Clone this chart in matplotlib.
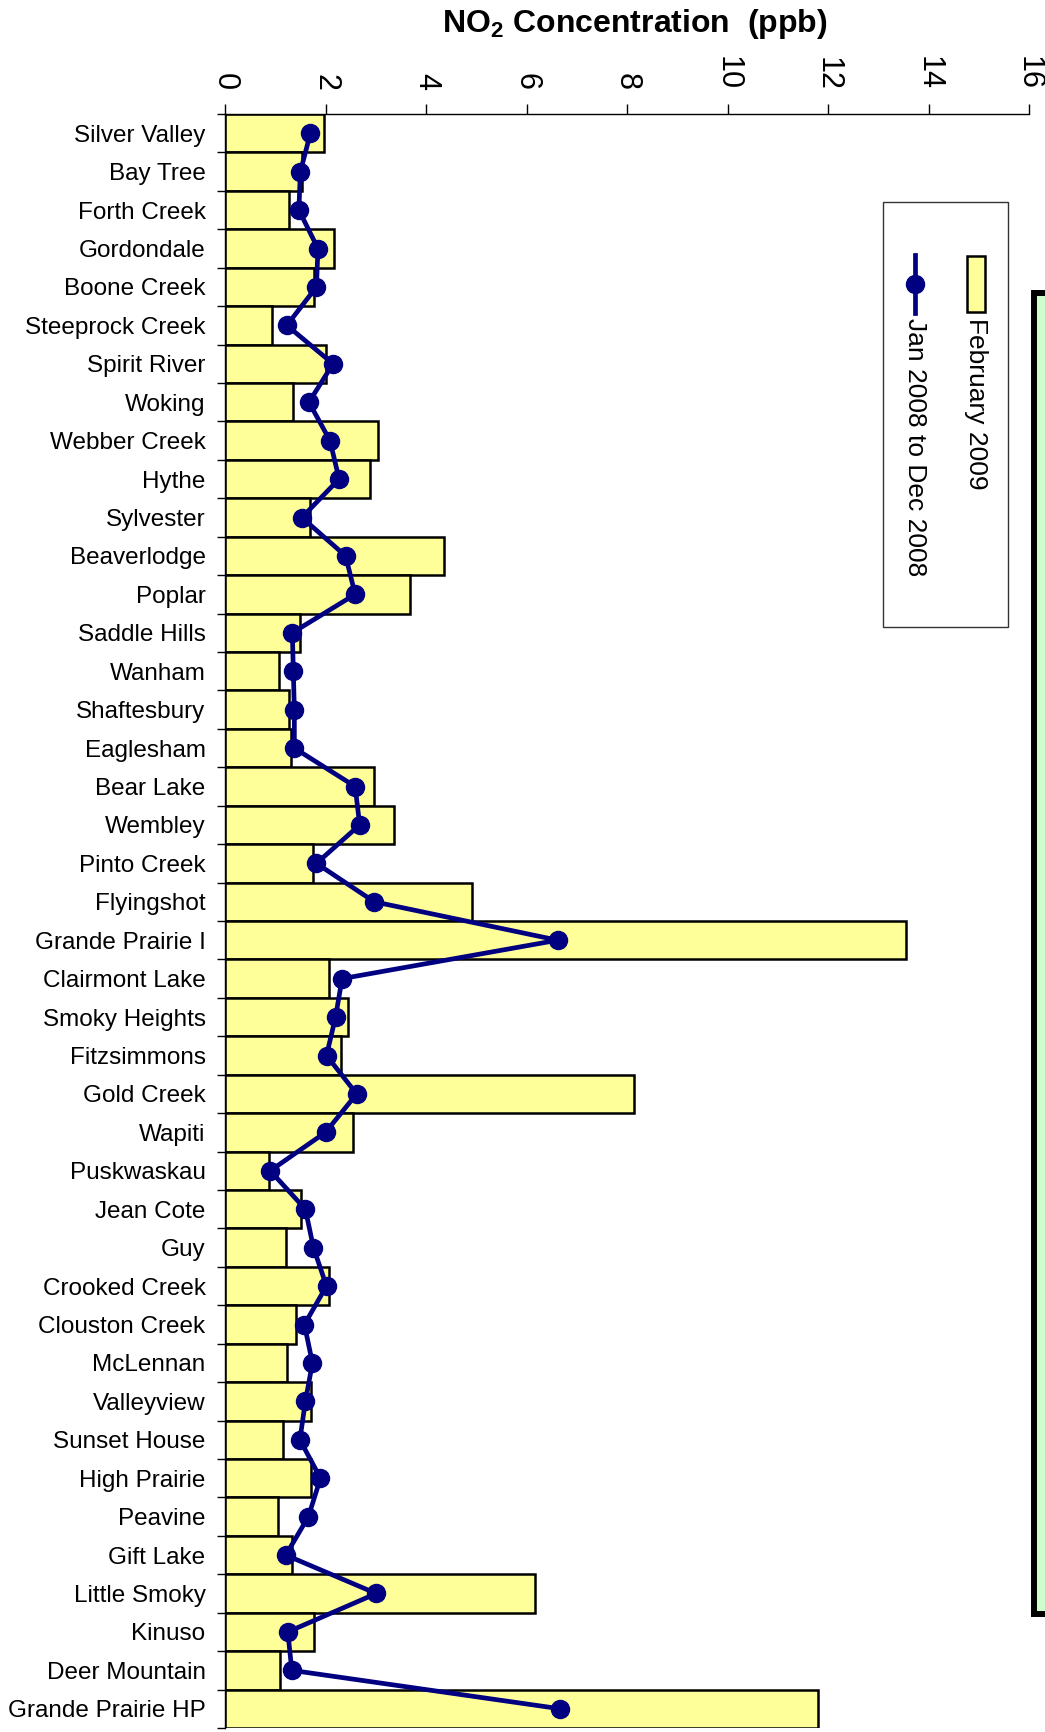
import numpy as np
import matplotlib.pyplot as plt
from matplotlib.patches import Rectangle
from matplotlib.lines import Line2D

plt.rcParams['font.family'] = ['Liberation Sans', 'DejaVu Sans']
plt.rcParams['mathtext.fontset'] = 'custom'
plt.rcParams['mathtext.rm'] = 'Liberation Sans'
plt.rcParams['mathtext.bf'] = 'Liberation Sans:bold'

# Data
stations = ['Silver Valley', 'Bay Tree', 'Forth Creek', 'Gordondale', 'Boone Creek',
            'Steeprock Creek', 'Spirit River', 'Woking', 'Webber Creek', 'Hythe',
            'Sylvester', 'Beaverlodge', 'Poplar', 'Saddle Hills', 'Wanham',
            'Shaftesbury', 'Eaglesham', 'Bear Lake', 'Wembley', 'Pinto Creek',
            'Flyingshot', 'Grande Prairie I', 'Clairmont Lake', 'Smoky Heights',
            'Fitzsimmons', 'Gold Creek', 'Wapiti', 'Puskwaskau', 'Jean Cote', 'Guy',
            'Crooked Creek', 'Clouston Creek', 'McLennan', 'Valleyview', 'Sunset House',
            'High Prairie', 'Peavine', 'Gift Lake', 'Little Smoky', 'Kinuso',
            'Deer Mountain', 'Grande Prairie HP']
feb_2009 = [1.97, 1.53, 1.27, 2.17, 1.77, 0.93, 2.01, 1.35, 3.05, 2.89,
            1.69, 4.35, 3.69, 1.49, 1.08, 1.27, 1.32, 2.97, 3.36, 1.76,
            4.92, 13.56, 2.07, 2.44, 2.31, 8.13, 2.55, 0.88, 1.52, 1.21,
            2.07, 1.41, 1.23, 1.71, 1.16, 1.71, 1.06, 1.34, 6.17, 1.77,
            1.10, 11.80]
year_2008 = [1.70, 1.50, 1.47, 1.85, 1.82, 1.23, 2.15, 1.67, 2.09, 2.27,
             1.53, 2.40, 2.59, 1.34, 1.36, 1.38, 1.38, 2.59, 2.68, 1.82,
             2.97, 6.62, 2.33, 2.20, 2.02, 2.62, 2.00, 0.90, 1.60, 1.76,
             2.02, 1.58, 1.74, 1.60, 1.49, 1.90, 1.66, 1.21, 3.01, 1.25,
             1.33, 6.67]
x_ticks = [0, 2, 4, 6, 8, 10, 12, 14, 16]

W, H = 1045, 1732
BAR_COLOR = '#FFFF99'
LINE_COLOR = '#000080'


def fx(px):
    return px / W


def fy(py):
    return 1 - py / H


fig = plt.figure(figsize=(W / 100, H / 100), dpi=100)

# green panel on the right edge, mostly cut off
fig.add_artist(Rectangle((fx(1034), fy(1614)), fx(80), (1614 - 293) / H,
                         transform=fig.transFigure, facecolor='#CCFFCC',
                         edgecolor='black', linewidth=4.3, zorder=0))

ax = fig.add_axes([fx(225), fy(1728), fx(1029 - 225), (1728 - 114) / H])
y = np.arange(len(stations))

ax.barh(y, feb_2009, height=1.0, color=BAR_COLOR, edgecolor='black', linewidth=1.8, zorder=2)
ax.plot(year_2008, y, color=LINE_COLOR, linewidth=3.4, marker='o', markersize=13, zorder=3)

ax.set_xlim(0, 16)
ax.set_ylim(len(stations) - 0.5, -0.5)

ax.xaxis.tick_top()
ax.set_xticks(x_ticks)
ax.set_xticklabels([str(t) for t in x_ticks], rotation=270, fontsize=22)
ax.tick_params(axis='x', direction='out', length=7, width=1, pad=10)

ax.set_yticks(np.arange(len(stations) + 1) - 0.5)
ax.set_yticklabels([])
ax.set_yticks(y, minor=True)
ax.set_yticklabels(stations, minor=True, fontsize=17.5)
ax.tick_params(axis='y', which='major', direction='out', length=6, width=1)
ax.tick_params(axis='y', which='minor', length=0, pad=14)

for s in ['right', 'bottom']:
    ax.spines[s].set_visible(False)
for s in ['top', 'left']:
    ax.spines[s].set_linewidth(1)

fig.text(fx(635), fy(24), r'NO$_{\mathbf{2}}$ Concentration  (ppb)',
         fontsize=23, fontweight='bold', ha='center', va='center')

# legend drawn by hand, rotated like the rest of the chart
fig.add_artist(Rectangle((fx(883), fy(627)), fx(1008 - 883), (627 - 202) / H,
                         transform=fig.transFigure, facecolor='white',
                         edgecolor='#333333', linewidth=1, zorder=5))
fig.add_artist(Rectangle((fx(967), fy(312)), fx(18), 56 / H,
                         transform=fig.transFigure, facecolor=BAR_COLOR,
                         edgecolor='black', linewidth=1.8, zorder=6))
fig.add_artist(Line2D([fx(915), fx(915)], [fy(255), fy(313)], transform=fig.transFigure,
                      color=LINE_COLOR, linewidth=3.4, zorder=6))
fig.add_artist(Line2D([fx(915)], [fy(284)], transform=fig.transFigure, color=LINE_COLOR,
                      marker='o', markersize=13, zorder=6))
fig.text(fx(976), fy(318), 'February 2009', rotation=270, fontsize=19,
         ha='center', va='top', zorder=7)
fig.text(fx(915), fy(318), 'Jan 2008 to Dec 2008', rotation=270, fontsize=19,
         ha='center', va='top', zorder=7)

fig.savefig('out.png', dpi=100)
